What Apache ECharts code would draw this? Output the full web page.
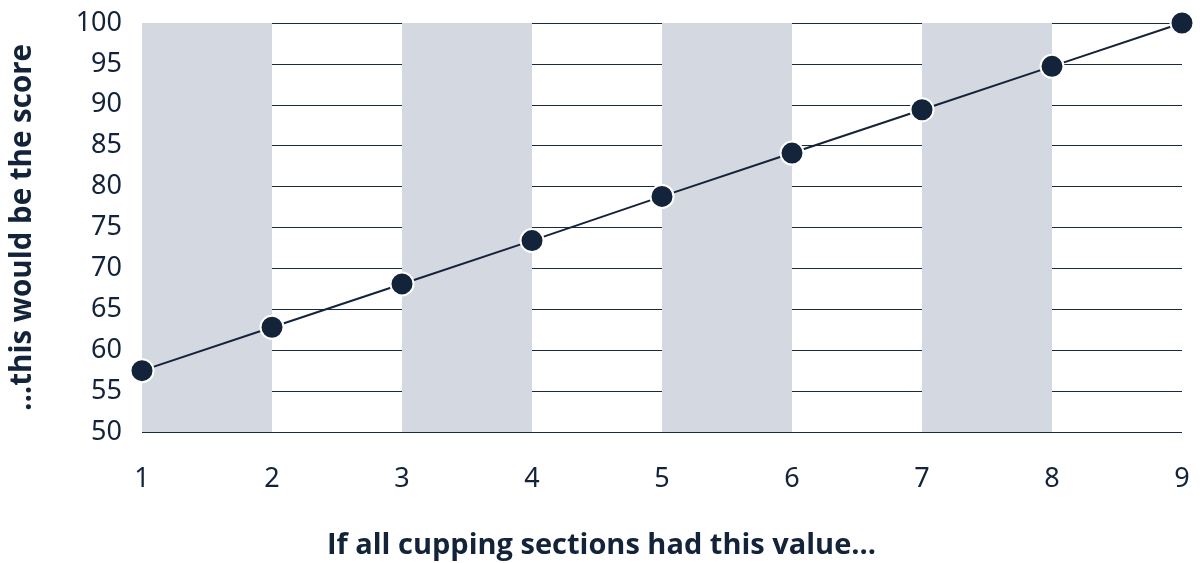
<!DOCTYPE html>
<html>
<head>
<meta charset="utf-8">
<script src="https://cdn.jsdelivr.net/npm/echarts@6/dist/echarts.min.js"></script>
<style>
html,body{margin:0;padding:0;background:#fff;}
#chart{width:1203px;height:563px;}
</style>
</head>
<body>
<div id="chart"></div>
<script>
const sectionValues = [1, 2, 3, 4, 5, 6, 7, 8, 9];
const scores = [57.5, 62.8, 68.1, 73.4, 78.8, 84.1, 89.4, 94.7, 100];
const shadedBands = [[1, 2], [3, 4], [5, 6], [7, 8]];
const yTicks = [50, 55, 60, 65, 70, 75, 80, 85, 90, 95, 100];
const xTitle = 'If all cupping sections had this value...';
const yTitle = '...this would be the score';

const ink = '#13233a';
const titleFont = '"Open Sans", "Noto Sans", sans-serif';
const tickFont = '"Noto Sans", sans-serif';

const chart = echarts.init(document.getElementById('chart'));
chart.setOption({
  animation: false,
  title: {
    text: xTitle, left: 'center', top: 526,
    textStyle: { fontFamily: titleFont, fontWeight: 'bold', fontSize: 29, color: ink }
  },
  grid: { left: 142, right: 21, top: 23, bottom: 131, containLabel: false, outerBoundsMode: 'none' },
  xAxis: {
    type: 'value', min: 1, max: 9, interval: 1,
    axisLine: { show: false }, axisTick: { show: false }, splitLine: { show: false },
    axisLabel: { margin: 34, fontFamily: tickFont, fontSize: 27, color: ink }
  },
  yAxis: {
    type: 'value', min: yTicks[0], max: yTicks[yTicks.length - 1], interval: 5,
    name: yTitle, nameLocation: 'middle', nameGap: 104,
    nameTextStyle: { fontFamily: titleFont, fontWeight: 'bold', fontSize: 29.5, color: ink },
    axisLine: { show: false }, axisTick: { show: false },
    splitLine: { lineStyle: { color: '#1b2a3d', width: 1 } },
    axisLabel: { margin: 20, fontFamily: tickFont, fontSize: 27, color: ink }
  },
  series: [{
    type: 'line',
    data: sectionValues.map((v, i) => [v, scores[i]]),
    symbol: 'circle', symbolSize: 23,
    lineStyle: { color: ink, width: 2 },
    itemStyle: { color: ink, borderColor: '#fff', borderWidth: 2 },
    z: 5,
    markArea: {
      silent: true,
      itemStyle: { color: '#d4d8e0' },
      data: shadedBands.map(b => [{ xAxis: b[0], yAxis: 50 }, { xAxis: b[1], yAxis: 100 }])
    }
  }]
});
</script>
</body>
</html>
